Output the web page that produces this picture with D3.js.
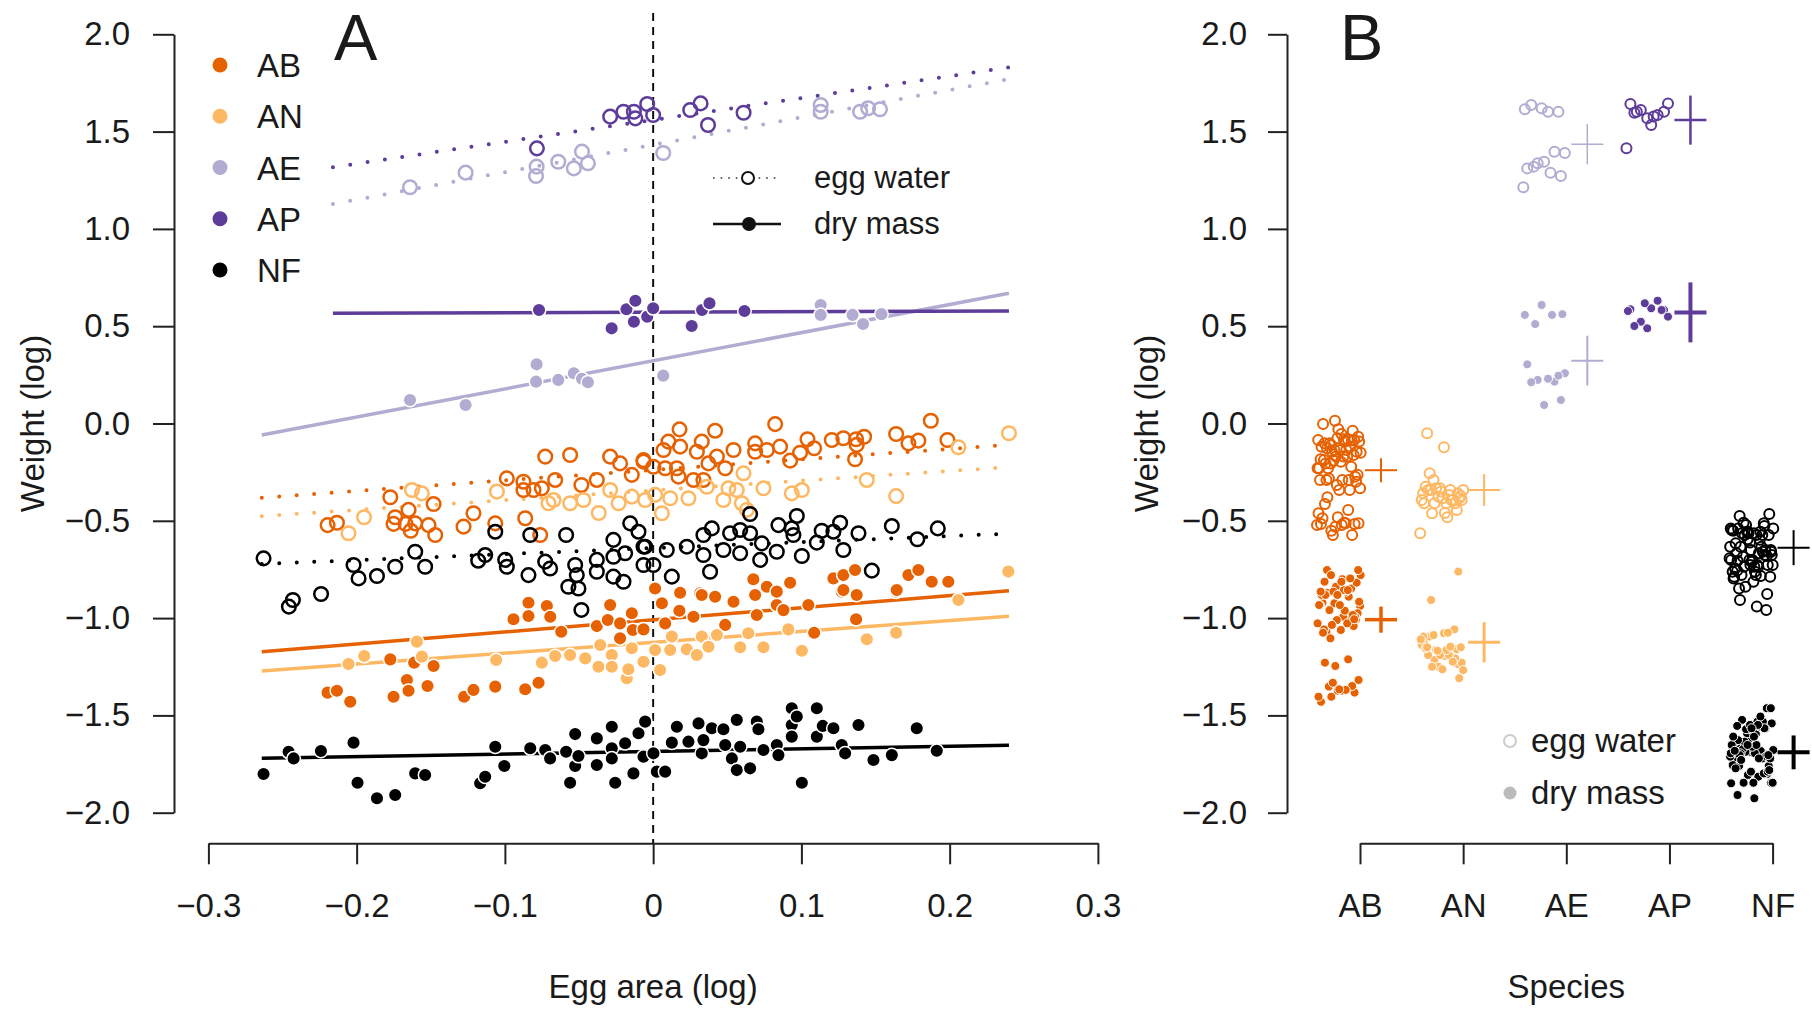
<!DOCTYPE html>
<html>
<head>
<meta charset="utf-8">
<script src="https://cdn.jsdelivr.net/npm/d3@7"></script>
<style>
  body { margin: 0; background: #fff; }
  text { font-family: "Liberation Sans", Arial, sans-serif; fill: #1a1a1a; }
</style>
</head>
<body>
<div id="chart"></div>
<script>
var species = ['AB', 'AN', 'AE', 'AP', 'NF'];
var yTicks = [2, 1.5, 1, 0.5, 0, -0.5, -1, -1.5, -2];
var xTicks = [-0.3, -0.2, -0.1, 0, 0.1, 0.2, 0.3];

// each point: [egg area (log), weight (log)]
var abWater = [[-0.2196,-0.522],[-0.2133,-0.510],[-0.1773,-0.379],[-0.1751,-0.516],[-0.1740,-0.482],[-0.1670,-0.516],
  [-0.1650,-0.444],[-0.1635,-0.551],[-0.1605,-0.513],[-0.1515,-0.522],[-0.1481,-0.414],[-0.1470,-0.573],[-0.1279,-0.530],
  [-0.1212,-0.461],[-0.1065,-0.513],[-0.0987,-0.282],[-0.0875,-0.299],[-0.0875,-0.342],[-0.0863,-0.487],[-0.0807,-0.342],
  [-0.0762,-0.573],[-0.0751,-0.333],[-0.0728,-0.170],[-0.0661,-0.290],[-0.0560,-0.162],[-0.0484,-0.316],[-0.0380,-0.290],
  [-0.0290,-0.170],[-0.0223,-0.205],[-0.0144,-0.264],[-0.0065,-0.196],[-0.0065,-0.188],[0.0002,-0.222],[0.0070,-0.136],
  [0.0081,-0.230],[0.0103,-0.093],[0.0160,-0.230],[0.0171,-0.273],[0.0178,-0.030],[0.0182,-0.119],[0.0272,-0.290],
  [0.0295,-0.145],[0.0328,-0.093],[0.0339,-0.290],[0.0373,-0.205],[0.0418,-0.037],[0.0430,-0.170],[0.0486,-0.230],
  [0.0542,-0.136],[0.0688,-0.102],[0.0688,-0.145],[0.0767,-0.136],[0.0823,-0.003],[0.0856,-0.119],[0.0924,-0.191],
  [0.0991,-0.150],[0.1041,-0.081],[0.1086,-0.127],[0.1205,-0.085],[0.1283,-0.076],[0.1362,-0.184],[0.1369,-0.081],
  [0.1373,-0.110],[0.1423,-0.068],[0.1639,-0.054],[0.1722,-0.102],[0.1789,-0.088],[0.1873,0.014],[0.1985,-0.085]];
var abDry = [[-0.2196,-1.383],[-0.2133,-1.373],[-0.2043,-1.430],[-0.1773,-1.212],[-0.1751,-1.404],[-0.1661,-1.318],
  [-0.1650,-1.373],[-0.1612,-1.229],[-0.1522,-1.349],[-0.1481,-1.246],[-0.1275,-1.404],[-0.1212,-1.369],[-0.1065,-1.352],
  [-0.0942,-1.006],[-0.0863,-1.366],[-0.0841,-0.921],[-0.0841,-0.989],[-0.0773,-1.332],[-0.0717,-0.938],[-0.0694,-0.993],
  [-0.0620,-1.070],[-0.0380,-1.041],[-0.0306,-1.010],[-0.0290,-0.933],[-0.0223,-1.027],[-0.0223,-1.104],[-0.0144,-0.975],
  [-0.0137,-1.061],[-0.0065,-1.058],[0.0013,-0.848],[0.0059,-0.924],[0.0081,-1.027],[0.0177,-0.962],[0.0182,-0.870],
  [0.0272,-0.993],[0.0317,-0.873],[0.0328,-0.881],[0.0418,-0.890],[0.0486,-1.035],[0.0542,-0.916],[0.0676,-0.800],
  [0.0688,-0.881],[0.0699,-0.984],[0.0767,-0.839],[0.0834,-0.933],[0.0834,-0.864],[0.0879,-0.959],[0.0924,-0.818],
  [0.1047,-0.933],[0.1086,-1.075],[0.1216,-0.796],[0.1272,-0.864],[0.1283,-0.779],[0.1283,-0.856],[0.1362,-0.753],
  [0.1369,-1.006],[0.1373,-0.881],[0.1639,-0.864],[0.1643,-0.856],[0.1722,-0.779],[0.1789,-0.753],[0.1879,-0.813],
  [0.1991,-0.813]];
var anWater = [[-0.2055,-0.564],[-0.1950,-0.482],[-0.1627,-0.342],[-0.1560,-0.359],[-0.1054,-0.350],[-0.0706,-0.410],
  [-0.0672,-0.393],[-0.0560,-0.410],[-0.0470,-0.393],[-0.0367,-0.460],[-0.0290,-0.342],[-0.0233,-0.410],[-0.0144,-0.376],
  [-0.0054,-0.393],[0.0013,-0.367],[0.0059,-0.461],[0.0115,-0.384],[0.0238,-0.384],[0.0362,-0.325],[0.0474,-0.393],
  [0.0508,-0.333],[0.0564,-0.342],[0.0598,-0.410],[0.0609,-0.256],[0.0632,-0.444],[0.0744,-0.333],[0.0935,-0.359],
  [0.1003,-0.342],[0.1441,-0.290],[0.1639,-0.373],[0.2059,-0.122],[0.2400,-0.050]];
var anDry = [[-0.2055,-1.236],[-0.1949,-1.195],[-0.1594,-1.121],[-0.1560,-1.198],[-0.1059,-1.215],[-0.0751,-1.229],
  [-0.0661,-1.195],[-0.0560,-1.190],[-0.0458,-1.207],[-0.0369,-1.250],[-0.0357,-1.138],[-0.0279,-1.190],[-0.0279,-1.250],
  [-0.0178,-1.309],[-0.0167,-1.263],[-0.0144,-1.155],[-0.0065,-1.224],[0.0013,-1.164],[0.0047,-1.267],[0.0115,-1.164],
  [0.0126,-1.095],[0.0227,-1.160],[0.0295,-1.190],[0.0328,-1.095],[0.0373,-1.147],[0.0430,-1.087],[0.0587,-1.150],
  [0.0642,-1.078],[0.0744,-1.150],[0.0912,-1.058],[0.1003,-1.168],[0.1441,-1.109],[0.1639,-1.075],[0.2059,-0.907],
  [0.2396,-0.761]];
var aeWater = [[-0.164,1.214],[-0.1265,1.289],[-0.0786,1.320],[-0.079,1.272],[-0.064,1.345],[-0.0535,1.311],
  [-0.048,1.397],[-0.044,1.337],[0.0068,1.390],[0.113,1.602],[0.113,1.637],[0.1396,1.602],[0.145,1.620],[0.153,1.615]];
var aeDry = [[-0.164,0.121],[-0.1265,0.095],[-0.0786,0.304],[-0.079,0.215],[-0.064,0.224],[-0.0535,0.258],
  [-0.048,0.230],[-0.044,0.212],[0.0068,0.246],[0.113,0.609],[0.113,0.558],[0.1345,0.558],[0.1416,0.511],[0.154,0.562]];
var apWater = [[-0.0784,1.414],[-0.029,1.577],[-0.020,1.602],[-0.013,1.602],[-0.012,1.568],[-0.004,1.642],
  [0.000,1.585],[0.025,1.611],[0.032,1.645],[0.037,1.534],[0.061,1.597]];
var apDry = [[-0.077,0.583],[-0.028,0.489],[-0.018,0.587],[-0.012,0.631],[-0.013,0.523],[-0.004,0.549],
  [0.000,0.592],[0.026,0.501],[0.033,0.583],[0.038,0.618],[0.0616,0.578]];
var nfWater = [[-0.2628,-0.693],[-0.2457,-0.941],[-0.2430,-0.907],[-0.2240,-0.876],[-0.2021,-0.727],[-0.1987,-0.796],
  [-0.1863,-0.784],[-0.1740,-0.736],[-0.1605,-0.659],[-0.1538,-0.736],[-0.1180,-0.705],[-0.1133,-0.676],[-0.1065,-0.556],
  [-0.0998,-0.701],[-0.0987,-0.736],[-0.0841,-0.779],[-0.0829,-0.573],[-0.0728,-0.710],[-0.0695,-0.745],[-0.0587,-0.573],
  [-0.0572,-0.839],[-0.0526,-0.727],[-0.0515,-0.779],[-0.0504,-0.848],[-0.0484,-0.958],[-0.0380,-0.701],[-0.0380,-0.762],
  [-0.0268,-0.598],[-0.0268,-0.685],[-0.0268,-0.787],[-0.0200,-0.813],[-0.0189,-0.667],[-0.0155,-0.513],[-0.0099,-0.556],
  [-0.0065,-0.633],[-0.0065,-0.727],[-0.0054,-0.633],[0.0002,-0.727],[0.0092,-0.650],[0.0126,-0.787],[0.0227,-0.633],
  [0.0339,-0.573],[0.0339,-0.676],[0.0384,-0.762],[0.0396,-0.539],[0.0474,-0.650],[0.0519,-0.564],[0.0587,-0.547],
  [0.0587,-0.667],[0.0654,-0.564],[0.0654,-0.465],[0.0722,-0.701],[0.0733,-0.616],[0.0834,-0.659],[0.0845,-0.522],
  [0.0935,-0.539],[0.0946,-0.573],[0.0969,-0.475],[0.1003,-0.681],[0.1104,-0.612],[0.1137,-0.551],[0.1216,-0.556],
  [0.1261,-0.510],[0.1283,-0.650],[0.1385,-0.564],[0.1475,-0.756],[0.1610,-0.527],[0.1782,-0.595],[0.1920,-0.539]];
var nfDry = [[-0.2628,-1.801],[-0.2459,-1.687],[-0.2425,-1.721],[-0.2241,-1.683],[-0.2021,-1.640],[-0.1994,-1.846],
  [-0.1863,-1.926],[-0.1740,-1.909],[-0.1605,-1.798],[-0.1538,-1.806],[-0.1167,-1.849],[-0.1133,-1.815],[-0.1065,-1.661],
  [-0.1004,-1.760],[-0.0829,-1.669],[-0.0728,-1.678],[-0.0695,-1.721],[-0.0587,-1.687],[-0.0560,-1.846],[-0.0526,-1.596],
  [-0.0526,-1.760],[-0.0504,-1.709],[-0.0380,-1.618],[-0.0380,-1.755],[-0.0279,-1.558],[-0.0279,-1.669],[-0.0279,-1.721],
  [-0.0256,-1.846],[-0.0189,-1.643],[-0.0133,-1.798],[-0.0099,-1.592],[-0.0065,-1.712],[-0.0054,-1.532],[0.0002,-1.695],
  [0.0025,-1.789],[0.0081,-1.789],[0.0126,-1.640],[0.0160,-1.558],[0.0238,-1.635],[0.0306,-1.541],[0.0328,-1.695],
  [0.0339,-1.627],[0.0396,-1.566],[0.0474,-1.571],[0.0486,-1.652],[0.0531,-1.721],[0.0564,-1.523],[0.0564,-1.781],
  [0.0587,-1.661],[0.0654,-1.772],[0.0699,-1.532],[0.0710,-1.571],[0.0744,-1.678],[0.0834,-1.652],[0.0845,-1.704],
  [0.0935,-1.463],[0.0935,-1.549],[0.0935,-1.609],[0.0969,-1.506],[0.1003,-1.846],[0.1104,-1.463],[0.1104,-1.609],
  [0.1144,-1.554],[0.1216,-1.566],[0.1272,-1.652],[0.1295,-1.695],[0.1385,-1.549],[0.1486,-1.729],[0.1610,-1.704],
  [0.1778,-1.566],[0.1913,-1.682]];

// fitted lines per species: [x0, y0, x1, y1]
var waterFit = [[-0.264,-0.381,0.24,-0.109],[-0.264,-0.476,0.24,-0.224],[-0.216,1.128,0.24,1.770],
  [-0.216,1.317,0.24,1.830],[-0.264,-0.722,0.24,-0.566]];
var dryFit = [[-0.264,-1.173,0.24,-0.860],[-0.264,-1.272,0.24,-0.990],[-0.264,-0.059,0.24,0.669],
  [-0.216,0.566,0.24,0.578],[-0.264,-1.720,0.24,-1.653]];

// panel B species estimate and half interval
var waterMean = [-0.240, -0.342, 1.435, 1.559, -0.638];
var waterHalf = [0.062, 0.082, 0.103, 0.126, 0.090];
var dryMean = [-1.008, -1.124, 0.323, 0.571, -1.690];
var dryHalf = [0.067, 0.103, 0.128, 0.154, 0.087];

var waterSets = [abWater, anWater, aeWater, apWater, nfWater];
var drySets = [abDry, anDry, aeDry, apDry, nfDry];

var colors = {AB: '#e66101', AN: '#fdb863', AE: '#b2abd2', AP: '#5e3c99', NF: '#000000'};
var crossWidth = {AB: [2, 3.5], AN: [2, 3], AE: [1.5, 2], AP: [2.5, 4], NF: [2, 4]};

var width = 1812, height = 1010;
var svg = d3.select('#chart').append('svg')
            .attr('width', width)
            .attr('height', height);

var y = d3.scaleLinear().domain([-2, 2]).range([812.7, 34.3]);
var xA = d3.scaleLinear().domain([-0.3, 0.3]).range([208.4, 1097.9]);
var xB = d3.scalePoint().domain(species).range([1360, 1772.6]);

var yFmt = d3.format('.1f');
var xFmt = function(v) { return v === 0 ? '0' : d3.format('.1f')(v); };

function styleAxis(g) {
  g.select('.domain').attr('stroke', '#222').attr('stroke-width', 2);
  g.selectAll('.tick line').attr('stroke', '#222').attr('stroke-width', 2);
  g.selectAll('.tick text')
   .style('font-family', '"Liberation Sans", Arial, sans-serif')
   .style('font-size', '33px')
   .attr('fill', '#1a1a1a');
}

// ---------- axes ----------
svg.append('g').attr('class', 'yaxisA')
   .attr('transform', 'translate(174,0)')
   .call(d3.axisLeft(y).tickValues(yTicks).tickFormat(yFmt)
           .tickSizeInner(21).tickSizeOuter(0).tickPadding(23))
   .call(styleAxis);

svg.append('g').attr('class', 'xaxisA')
   .attr('transform', 'translate(0,843.3)')
   .call(d3.axisBottom(xA).tickValues(xTicks).tickFormat(xFmt)
           .tickSizeInner(21).tickSizeOuter(0).tickPadding(29))
   .call(styleAxis);

svg.append('g').attr('class', 'yaxisB')
   .attr('transform', 'translate(1287,0)')
   .call(d3.axisLeft(y).tickValues(yTicks).tickFormat(yFmt)
           .tickSizeInner(19).tickSizeOuter(0).tickPadding(21))
   .call(styleAxis);

svg.append('g').attr('class', 'xaxisB')
   .attr('transform', 'translate(0,843.3)')
   .call(d3.axisBottom(xB).tickSizeInner(21).tickSizeOuter(0).tickPadding(29))
   .call(styleAxis);

// axis titles
svg.append('text').attr('x', xA(0)).attr('y', 998)
   .attr('text-anchor', 'middle').style('font-size', '33px').text('Egg area (log)');
svg.append('text').attr('x', xB('AE')).attr('y', 998)
   .attr('text-anchor', 'middle').style('font-size', '33px').text('Species');
svg.append('text').attr('transform', 'translate(44,' + y(0) + ') rotate(-90)')
   .attr('text-anchor', 'middle').style('font-size', '33px').text('Weight (log)');
svg.append('text').attr('transform', 'translate(1158,' + y(0) + ') rotate(-90)')
   .attr('text-anchor', 'middle').style('font-size', '33px').text('Weight (log)');

svg.append('text').attr('x', 334).attr('y', 60).style('font-size', '65px').text('A');
svg.append('text').attr('x', 1340).attr('y', 60).style('font-size', '65px').text('B');

// ---------- panel A ----------
var panelA = svg.append('g').attr('class', 'panelA');

panelA.append('line')
      .attr('x1', xA(0)).attr('x2', xA(0))
      .attr('y1', 13).attr('y2', 843)
      .attr('stroke', '#111').attr('stroke-width', 2)
      .attr('stroke-dasharray', '8,6');

var linesA = panelA.append('g').attr('class', 'linesWrapper');
species.forEach(function(sp, i) {
  var w = waterFit[i], d = dryFit[i];
  linesA.append('line')
        .attr('x1', xA(w[0])).attr('y1', y(w[1]))
        .attr('x2', xA(w[2])).attr('y2', y(w[3]))
        .attr('stroke', colors[sp]).attr('stroke-width', 4)
        .attr('stroke-linecap', 'round')
        .attr('stroke-dasharray', '0,17.5');
  linesA.append('line')
        .attr('x1', xA(d[0])).attr('y1', y(d[1]))
        .attr('x2', xA(d[2])).attr('y2', y(d[3]))
        .attr('stroke', colors[sp]).attr('stroke-width', 3.5);
});

var pointsA = panelA.append('g').attr('class', 'pointsWrapper');
species.forEach(function(sp, i) {
  var g = pointsA.append('g').attr('class', 'sp_' + sp);
  g.selectAll('circle.water').data(waterSets[i]).enter()
   .append('circle').attr('class', 'water')
   .attr('cx', function(d) { return xA(d[0]); })
   .attr('cy', function(d) { return y(d[1]); })
   .attr('r', 6.8)
   .attr('fill', 'none')
   .attr('stroke', colors[sp])
   .attr('stroke-width', 2.5);
  g.selectAll('circle.dry').data(drySets[i]).enter()
   .append('circle').attr('class', 'dry')
   .attr('cx', function(d) { return xA(d[0]); })
   .attr('cy', function(d) { return y(d[1]); })
   .attr('r', 6.8)
   .attr('fill', colors[sp])
   .attr('stroke', '#fff')
   .attr('stroke-width', 1.5);
});

// species legend
var legA = panelA.append('g').attr('class', 'legendA');
var legY = d3.scalePoint().domain(species).range([65, 270]);
legA.selectAll('circle').data(species).enter()
    .append('circle')
    .attr('cx', 220).attr('cy', function(d) { return legY(d); })
    .attr('r', 7.5).attr('fill', function(d) { return colors[d]; });
legA.selectAll('text').data(species).enter()
    .append('text')
    .attr('x', 257).attr('y', function(d) { return legY(d) + 12; })
    .style('font-size', '33px')
    .text(function(d) { return d; });

// measure legend
var legM = panelA.append('g').attr('class', 'legendMeasure');
legM.append('line').attr('x1', 713).attr('x2', 780).attr('y1', 178).attr('y2', 178)
    .attr('stroke', '#333').attr('stroke-width', 1.6).attr('stroke-dasharray', '1.6,6');
legM.append('circle').attr('cx', 748).attr('cy', 178).attr('r', 6)
    .attr('fill', '#fff').attr('stroke', '#111').attr('stroke-width', 2);
legM.append('line').attr('x1', 713).attr('x2', 781).attr('y1', 224).attr('y2', 224)
    .attr('stroke', '#111').attr('stroke-width', 2.5);
legM.append('circle').attr('cx', 749).attr('cy', 224).attr('r', 7).attr('fill', '#111');
legM.append('text').attr('x', 814).attr('y', 188).style('font-size', '31px').text('egg water');
legM.append('text').attr('x', 814).attr('y', 234).style('font-size', '31px').text('dry mass');

// ---------- panel B ----------
var panelB = svg.append('g').attr('class', 'panelB');

// spread each species into a narrow strip left of its tick
function stripX(sp, i) {
  return xB(sp) - 43 + ((i * 0.6180339887) % 1) * 44;
}

species.forEach(function(sp, i) {
  var g = panelB.append('g').attr('class', 'sp_' + sp);
  g.selectAll('circle.water').data(waterSets[i]).enter()
   .append('circle').attr('class', 'water')
   .attr('cx', function(d, j) { return stripX(sp, j); })
   .attr('cy', function(d) { return y(d[1]); })
   .attr('r', 5)
   .attr('fill', 'none')
   .attr('stroke', colors[sp])
   .attr('stroke-width', 2);
  g.selectAll('circle.dry').data(drySets[i]).enter()
   .append('circle').attr('class', 'dry')
   .attr('cx', function(d, j) { return stripX(sp, j + 3); })
   .attr('cy', function(d) { return y(d[1]); })
   .attr('r', 4.5)
   .attr('fill', colors[sp])
   .attr('stroke', '#fff')
   .attr('stroke-width', 1);

  var cx = xB(sp) + 21;
  [[waterMean[i], waterHalf[i], crossWidth[sp][0]], [dryMean[i], dryHalf[i], crossWidth[sp][1]]]
    .forEach(function(c) {
      g.append('line').attr('x1', cx - 16).attr('x2', cx + 16)
       .attr('y1', y(c[0])).attr('y2', y(c[0]))
       .attr('stroke', colors[sp]).attr('stroke-width', c[2]);
      g.append('line').attr('x1', cx).attr('x2', cx)
       .attr('y1', y(c[0] - c[1])).attr('y2', y(c[0] + c[1]))
       .attr('stroke', colors[sp]).attr('stroke-width', c[2]);
    });
});

var legB = panelB.append('g').attr('class', 'legendB');
legB.append('circle').attr('cx', 1510).attr('cy', 741).attr('r', 6)
    .attr('fill', 'none').attr('stroke', '#cccccc').attr('stroke-width', 2);
legB.append('circle').attr('cx', 1510).attr('cy', 793).attr('r', 6.5).attr('fill', '#bbbbbb');
legB.append('text').attr('x', 1531).attr('y', 752).style('font-size', '33px').text('egg water');
legB.append('text').attr('x', 1531).attr('y', 804).style('font-size', '33px').text('dry mass');
</script>
</body>
</html>
